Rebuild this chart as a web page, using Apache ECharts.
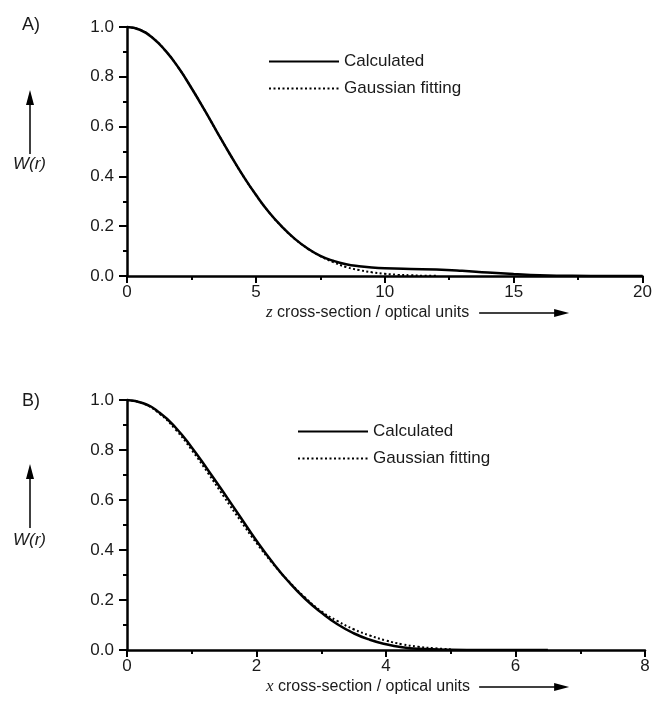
<!DOCTYPE html>
<html>
<head>
<meta charset="utf-8">
<script src="https://cdn.jsdelivr.net/npm/echarts@6/dist/echarts.min.js"></script>
<style>
html,body{margin:0;padding:0;background:#fff;}
#chart{width:655px;height:711px;}
</style>
</head>
<body>
<div id="chart"></div>
<script>
// ---- Panel A (z cross-section) ----
var aCalcX = [0, 0.5, 1, 1.5, 2, 2.5, 3, 3.5, 4, 4.5, 5, 5.5, 6, 6.5, 7, 7.5, 8, 8.5, 9, 9.5, 10, 11, 12, 13, 14, 15, 16, 17, 18, 19, 20];
var aCalcY = [1.0, 0.989, 0.956, 0.904, 0.836, 0.755, 0.668, 0.577, 0.488, 0.403, 0.326, 0.257, 0.199, 0.150, 0.111, 0.081, 0.061, 0.047, 0.039, 0.034, 0.031, 0.028, 0.026, 0.021, 0.014, 0.008, 0.003, 0.001, 0.0, 0.0, 0.0];
var aFitX = [0, 0.5, 1, 1.5, 2, 2.5, 3, 3.5, 4, 4.5, 5, 5.5, 6, 6.5, 7, 7.5, 8, 8.5, 9, 9.5, 10, 10.5, 11, 11.5, 12];
var aFitY = [1.0, 0.989, 0.956, 0.904, 0.836, 0.755, 0.668, 0.577, 0.488, 0.403, 0.326, 0.257, 0.199, 0.150, 0.111, 0.080, 0.056, 0.036, 0.024, 0.015, 0.009, 0.005, 0.003, 0.001, 0.0005];
var aXTicks = [0, 5, 10, 15, 20];
// ---- Panel B (x cross-section) ----
var bCalcX = [0, 0.25, 0.5, 0.75, 1, 1.25, 1.5, 1.75, 2, 2.25, 2.5, 2.75, 3, 3.25, 3.5, 3.75, 4, 4.25, 4.5, 5, 5.5, 6, 6.5];
var bCalcY = [1.0, 0.987, 0.95, 0.89, 0.81, 0.72, 0.627, 0.532, 0.437, 0.35, 0.272, 0.205, 0.15, 0.103, 0.067, 0.041, 0.023, 0.011, 0.005, 0.001, 0.0, 0.0, 0.0];
var bFitX = [0, 0.25, 0.5, 0.75, 1, 1.25, 1.5, 1.75, 2, 2.25, 2.5, 2.75, 3, 3.25, 3.5, 3.75, 4, 4.25, 4.5, 4.75, 5];
var bFitY = [1.0, 0.986, 0.946, 0.882, 0.8, 0.708, 0.612, 0.518, 0.428, 0.346, 0.274, 0.21, 0.155, 0.116, 0.083, 0.058, 0.038, 0.023, 0.013, 0.007, 0.003];
var bXTicks = [0, 2, 4, 6, 8];
var yTicks = [0.0, 0.2, 0.4, 0.6, 0.8, 1.0];
var seriesNames = ['Calculated', 'Gaussian fitting'];
var panelLabels = ['A)', 'B)'];
var xAxisVars = ['z', 'x'];
var xTitleRest = ' cross-section / optical units';

function zip(xs, ys) { return xs.map(function (x, i) { return [x, ys[i]]; }); }

var FONT = '"Liberation Sans", Arial, sans-serif';
var SERIF = '"Liberation Serif", "Times New Roman", serif';
var TXT = '#1a1a1a';
var FS = 17;

function xAxisCfg(gi, ticks) {
  return {
    type: 'value', gridIndex: gi,
    min: ticks[0], max: ticks[ticks.length - 1], interval: ticks[1] - ticks[0],
    axisLine: { show: true, onZero: false, lineStyle: { color: '#000', width: 2.5 } },
    axisTick: { show: true, inside: false, length: 7, lineStyle: { color: '#000', width: 2 } },
    minorTick: { show: true, splitNumber: 2, length: 4, lineStyle: { color: '#000', width: 2 } },
    splitLine: { show: false },
    axisLabel: { fontSize: FS, color: TXT, fontFamily: FONT, margin: 8 }
  };
}
function yAxisCfg(gi) {
  return {
    type: 'value', gridIndex: gi,
    min: yTicks[0], max: yTicks[yTicks.length - 1], interval: 0.2,
    axisLine: { show: true, onZero: false, lineStyle: { color: '#000', width: 2.5 } },
    axisTick: { show: true, inside: false, length: 8, lineStyle: { color: '#000', width: 2 } },
    minorTick: { show: true, splitNumber: 2, length: 4, lineStyle: { color: '#000', width: 2 } },
    splitLine: { show: false },
    axisLabel: { fontSize: FS, color: TXT, fontFamily: FONT, margin: 13,
      formatter: function (v) { return v.toFixed(1); } }
  };
}
function lineSeries(name, gi, data, dotted) {
  return {
    name: name, type: 'line', xAxisIndex: gi, yAxisIndex: gi,
    data: data, symbol: 'none', showSymbol: false, smooth: true, z: dotted ? 3 : 4,
    lineStyle: dotted ? { color: '#000', width: 2, type: [2, 2.5] } : { color: '#000', width: 2.5 },
    itemStyle: { color: '#000' }
  };
}

// measure title text to place the arrow right after it
var mctx = document.createElement('canvas').getContext('2d');
function textW(font, s) { mctx.font = font; return mctx.measureText(s).width; }
var titleFS = 16;
var titleStartX = 266;
var titleW = textW('italic ' + (titleFS + 1) + 'px ' + SERIF, 'z') + textW(titleFS + 'px ' + FONT, xTitleRest);
var arrowX1 = titleStartX + titleW + 10;
var arrowX2 = arrowX1 + 90;

function arrowRight(x1, x2, y) {
  return [
    { type: 'line', shape: { x1: x1, y1: y, x2: x2 - 10, y2: y }, style: { stroke: '#000', lineWidth: 1.5 } },
    { type: 'polygon', shape: { points: [[x2 - 15, y - 4], [x2, y], [x2 - 15, y + 4]] }, style: { fill: '#000' } }
  ];
}
function arrowUp(x, y1, y2) {
  return [
    { type: 'line', shape: { x1: x, y1: y1, x2: x, y2: y2 + 10 }, style: { stroke: '#000', lineWidth: 1.5 } },
    { type: 'polygon', shape: { points: [[x - 4, y2 + 15], [x, y2], [x + 4, y2 + 15]] }, style: { fill: '#000' } }
  ];
}
function axisTitle(v, y) {
  return {
    type: 'text', left: titleStartX, top: y - 9,
    style: {
      text: '{i|' + v + '}' + xTitleRest,
      font: titleFS + 'px ' + FONT, fill: TXT,
      rich: { i: { fontFamily: SERIF, fontStyle: 'italic', fontSize: titleFS + 1, fill: TXT } }
    }
  };
}
function yTitle(y) {
  return { type: 'text', left: 13, top: y - 10, style: { text: 'W(r)', font: 'italic ' + FS + 'px ' + FONT, fill: TXT } };
}
function panelLabel(t, y) {
  return { type: 'text', left: 22, top: y - 10, style: { text: t, font: '18px ' + FONT, fill: TXT } };
}

var graphics = [].concat(
  [panelLabel(panelLabels[0], 26), panelLabel(panelLabels[1], 402)],
  arrowUp(30, 154, 90), arrowUp(30, 528, 464),
  [yTitle(166), yTitle(542)],
  [axisTitle(xAxisVars[0], 313), axisTitle(xAxisVars[1], 687)],
  arrowRight(arrowX1, arrowX2, 313), arrowRight(arrowX1, arrowX2, 687)
);

var legendBase = {
  orient: 'vertical', itemWidth: 70, itemHeight: 12, itemGap: 10,
  itemStyle: { opacity: 0 },
  textStyle: { fontSize: FS, color: TXT, fontFamily: FONT, padding: [0, 0, 0, 0] },
  data: seriesNames
};

var option = {
  backgroundColor: '#fff',
  animation: false,
  grid: [
    { left: 127, right: 10, top: 27, height: 249 },
    { left: 127, right: 10, top: 400, height: 250 }
  ],
  xAxis: [xAxisCfg(0, aXTicks), xAxisCfg(1, bXTicks)],
  yAxis: [yAxisCfg(0), yAxisCfg(1)],
  legend: [
    Object.assign({}, legendBase, { left: 263, top: 48 }),
    Object.assign({}, legendBase, { left: 292, top: 418 })
  ],
  series: [
    lineSeries(seriesNames[0], 0, zip(aCalcX, aCalcY), false),
    lineSeries(seriesNames[1], 0, zip(aFitX, aFitY), true),
    lineSeries(seriesNames[0], 1, zip(bCalcX, bCalcY), false),
    lineSeries(seriesNames[1], 1, zip(bFitX, bFitY), true)
  ],
  graphic: graphics
};

var chart = echarts.init(document.getElementById('chart'), null, { renderer: 'canvas' });
chart.setOption(option);
</script>
</body>
</html>
